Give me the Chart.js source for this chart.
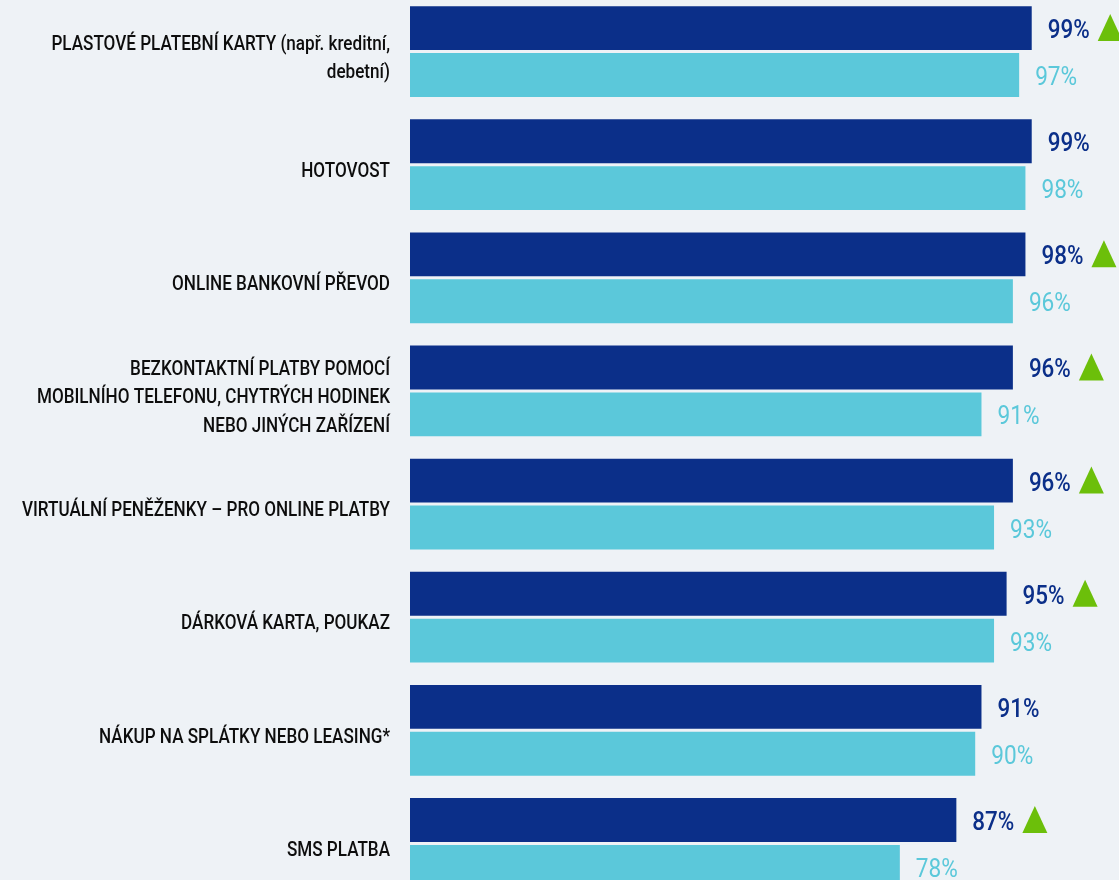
<!DOCTYPE html>
<html lang="cs">
<head>
    <meta charset="UTF-8">
    <title>Platební metody</title>
    <script src="https://cdn.jsdelivr.net/npm/chart.js"></script>
    <style>
        html, body {
            margin: 0;
            padding: 0;
            background: #eef2f6;
            overflow: hidden;
        }

        #wrap {
            position: absolute;
            left: 0;
            top: -5px;
            width: 1119px;
            height: 905px;
        }
    </style>
</head>
<body>
<div id="wrap"><canvas id="payChart"></canvas></div>

<script>
  const categories = [
    ['PLASTOVÉ PLATEBNÍ KARTY (např. kreditní,', 'debetní)'],
    'HOTOVOST',
    'ONLINE BANKOVNÍ PŘEVOD',
    ['BEZKONTAKTNÍ PLATBY POMOCÍ', 'MOBILNÍHO TELEFONU, CHYTRÝCH HODINEK', 'NEBO JINÝCH ZAŘÍZENÍ'],
    'VIRTUÁLNÍ PENĚŽENKY – PRO ONLINE PLATBY',
    'DÁRKOVÁ KARTA, POUKAZ',
    'NÁKUP NA SPLÁTKY NEBO LEASING*',
    'SMS PLATBA'
  ];

  const currentValues = [99, 99, 98, 96, 96, 95, 91, 87];
  const previousValues = [97, 98, 96, 91, 93, 93, 90, 78];
  // green arrow = significant rise vs previous wave
  const risen = [true, false, true, true, true, true, false, true];

  const DARK = '#0b2f89';
  const LIGHT = '#5bc8da';
  const GREEN = '#6cbf0a';
  const FONT = "Roboto, 'Noto Sans', sans-serif";
  const LABEL_EDGE = 390;

  // the original uses a condensed face; squeeze Roboto horizontally to match
  function squeeze(font, sample, target) {
    const c = document.createElement('canvas').getContext('2d');
    c.font = font;
    return target / c.measureText(sample).width;
  }
  const labelSqueeze = squeeze('500 21px ' + FONT, 'MOBILNÍHO TELEFONU, CHYTRÝCH HODINEK', 353);

  const condensedAxis = {
    id: 'condensedAxis',
    beforeDraw(chart) {
      const ctx = chart.ctx;
      // widen the label clip so the squeezed text is not cut on the left
      chart.scales.y.left = LABEL_EDGE - LABEL_EDGE / labelSqueeze - 20;
      ctx.save();
      ctx.translate(LABEL_EDGE, 0);
      ctx.scale(labelSqueeze, 1);
      ctx.translate(-LABEL_EDGE, 0);
    },
    beforeDatasetsDraw(chart) {
      chart.ctx.restore();
    }
  };

  const valueLabels = {
    id: 'valueLabels',
    afterDatasetsDraw(chart) {
      const ctx = chart.ctx;
      ctx.save();
      ctx.textBaseline = 'middle';
      ctx.textAlign = 'left';
      chart.data.datasets.forEach((ds, di) => {
        const meta = chart.getDatasetMeta(di);
        ctx.font = (di === 0 ? '500 ' : '400 ') + '26px ' + FONT;
        const k = 42 / ctx.measureText('99%').width;
        meta.data.forEach((bar, i) => {
          const txt = ds.data[i] + '%';
          const w = ctx.measureText(txt).width * k;
          const x = bar.x + 16;
          ctx.fillStyle = di === 0 ? DARK : LIGHT;
          ctx.fillText(txt, x, bar.y + 3.5, w);
          if (di === 0 && risen[i]) {
            const tx = x + w + 8;
            ctx.fillStyle = GREEN;
            ctx.beginPath();
            ctx.moveTo(tx, bar.y + 13);
            ctx.lineTo(tx + 25, bar.y + 13);
            ctx.lineTo(tx + 12.5, bar.y - 14);
            ctx.closePath();
            ctx.fill();
          }
        });
      });
      ctx.restore();
    }
  };

  new Chart(document.getElementById('payChart'), {
    type: 'bar',
    data: {
      labels: categories,
      datasets: [{
        label: 'aktuální',
        data: currentValues,
        backgroundColor: DARK
      }, {
        label: 'předchozí',
        data: previousValues,
        backgroundColor: LIGHT
      }]
    },
    options: {
      indexAxis: 'y',
      responsive: true,
      maintainAspectRatio: false,
      animation: false,
      categoryPercentage: 0.83,
      barPercentage: 0.935,
      layout: {
        padding: { left: 0, right: 81, top: 0, bottom: 0 }
      },
      scales: {
        x: {
          display: false,
          min: 0,
          max: 100
        },
        y: {
          afterFit(scale) {
            scale.width = 410;
            scale.paddingTop = 0;
            scale.paddingBottom = 0;
          },
          grid: { display: false, drawTicks: false },
          border: { display: false },
          ticks: {
            color: '#0d0d0d',
            padding: 20,
            labelOffset: 7,
            font: { family: FONT, size: 21, weight: '500', lineHeight: 1.36 }
          }
        }
      },
      plugins: {
        legend: { display: false },
        tooltip: { enabled: false }
      }
    },
    plugins: [condensedAxis, valueLabels]
  });
</script>
</body>
</html>
